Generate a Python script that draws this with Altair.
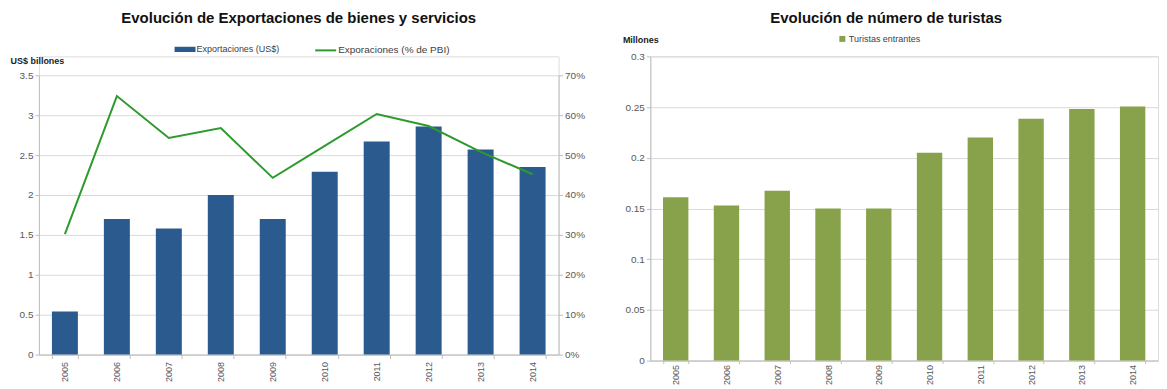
import altair as alt
import pandas as pd

# ---- data ----
years = ["2005", "2006", "2007", "2008", "2009", "2010", "2011", "2012", "2013", "2014"]
exports_usd = [0.54, 1.70, 1.58, 2.00, 1.70, 2.29, 2.67, 2.86, 2.57, 2.35]
exports_pct = [0.302, 0.648, 0.543, 0.568, 0.443, 0.523, 0.603, 0.573, 0.508, 0.452]
tourists = [0.161, 0.153, 0.1675, 0.150, 0.150, 0.205, 0.220, 0.2385, 0.248, 0.2505]

bar_label = "Exportaciones (US$)"
line_label = "Exporaciones (% de PBI)"
tour_label = "Turistas entrantes"
left_title = "Evolución de Exportaciones de bienes y servicios"
right_title = "Evolución de número de turistas"
left_ylabel = "US$ billones"
right_ylabel = "Millones"
left_ticks = [0, 0.5, 1, 1.5, 2, 2.5, 3, 3.5]
pct_ticks = [0, 0.1, 0.2, 0.3, 0.4, 0.5, 0.6, 0.7]
right_ticks = [0, 0.05, 0.1, 0.15, 0.2, 0.25, 0.3]

BLUE = "#2b5b8e"
GREEN_LINE = "#2e9a2e"
GREEN_BAR = "#87a24b"
GRID = "#d9d9d9"
AXIS = "#bfbfbf"
LABEL = "#595959"
FONT = "Liberation Sans"

LEFT_H = 299      # view height; the value range starts 19px below the top
LEFT_TOP = 19

df_left = pd.DataFrame({
    "year": years,
    "exports": exports_usd,
    "pct": exports_pct,
    "sb": [bar_label] * len(years),
    "sl": [line_label] * len(years),
})
df_right = pd.DataFrame({
    "year": years,
    "tourists": tourists,
    "st": [tour_label] * len(years),
})


def x_axis(tick, pad):
    return alt.Axis(
        title=None, labelAngle=-90, labelFontSize=9, labelColor=LABEL, labelPadding=pad,
        tickBand="extent", tickSize=tick, tickColor=AXIS, domainColor=AXIS, grid=False,
    )


x_scale = alt.Scale(paddingInner=0.5, paddingOuter=0.25)

left_base = alt.Chart(df_left).encode(
    x=alt.X("year:N", axis=x_axis(4, 3), scale=x_scale, sort=years)
)

bars = left_base.mark_bar().encode(
    y=alt.Y(
        "exports:Q",
        scale=alt.Scale(domain=[0, 3.5], nice=False, range=[LEFT_H, LEFT_TOP]),
        axis=alt.Axis(
            values=left_ticks, format="~g", labelFontSize=10, labelColor=LABEL,
            gridColor=GRID, domainColor=AXIS, tickColor=AXIS, tickSize=4,
            minExtent=30, maxExtent=30,
            title=left_ylabel, titleAngle=0, titleAlign="left", titleBaseline="alphabetic",
            titleX=-29, titleY=7, titleFontSize=9, titleFontWeight="bold", titleColor="#222222",
        ),
    ),
    color=alt.Color(
        "sb:N",
        scale=alt.Scale(domain=[bar_label], range=[BLUE]),
        legend=alt.Legend(
            orient="none", legendX=136, legendY=-17.5, title=None,
            symbolType="M-1,-0.25H1V0.25H-1Z", symbolSize=441, symbolStrokeWidth=0,
            labelFontSize=9, labelColor="#404040", labelOffset=1,
        ),
    ),
)

line = left_base.mark_line(strokeWidth=2).encode(
    y=alt.Y(
        "pct:Q",
        scale=alt.Scale(domain=[0, 0.7], nice=False, range=[LEFT_H, LEFT_TOP]),
        axis=alt.Axis(
            orient="right", values=pct_ticks, format=".0%", labelFontSize=10,
            labelColor=LABEL, grid=False, domainColor=AXIS, tickColor=AXIS, tickSize=4,
            minExtent=28, maxExtent=28, title=None,
        ),
    ),
    stroke=alt.Stroke(
        "sl:N",
        scale=alt.Scale(domain=[line_label], range=[GREEN_LINE]),
        legend=alt.Legend(
            orient="none", legendX=276, legendY=-17.5, title=None,
            symbolType="stroke", symbolSize=441, symbolStrokeWidth=2,
            labelFontSize=10, labelColor="#404040", labelOffset=1,
        ),
    ),
)

left = alt.layer(bars, line).resolve_scale(y="independent").properties(
    width=521, height=LEFT_H,
    title=alt.TitleParams(left_title, fontSize=15, fontWeight="bold", color="#111111",
                          anchor="middle", offset=13, font=FONT),
)

right = alt.Chart(df_right).mark_bar().encode(
    x=alt.X("year:N", axis=x_axis(3, 1), scale=x_scale, sort=years),
    y=alt.Y(
        "tourists:Q",
        scale=alt.Scale(domain=[0, 0.3], nice=False),
        axis=alt.Axis(
            values=right_ticks, format="~g", labelFontSize=10, labelColor=LABEL,
            gridColor=GRID, domainColor=AXIS, tickColor=AXIS, tickSize=4,
            minExtent=24, maxExtent=24,
            title=right_ylabel, titleAngle=0, titleAlign="left", titleBaseline="alphabetic",
            titleX=-28, titleY=-14, titleFontSize=9, titleFontWeight="bold", titleColor="#222222",
        ),
    ),
    color=alt.Color(
        "st:N",
        scale=alt.Scale(domain=[tour_label], range=[GREEN_BAR]),
        legend=alt.Legend(
            orient="none", legendX=188, legendY=-22, title=None,
            symbolType="square", symbolSize=36, symbolStrokeWidth=0,
            labelFontSize=9, labelColor="#404040", labelOffset=2,
        ),
    ),
).properties(
    width=509, height=305,
    title=alt.TitleParams(right_title, fontSize=15, fontWeight="bold", color="#111111",
                          anchor="middle", offset=8.5, dx=-18, font=FONT),
)

chart = alt.hconcat(left, right, spacing=34).resolve_scale(
    color="independent", stroke="independent"
).resolve_legend(color="independent").properties(
    padding={"left": 0, "top": 2, "right": 0, "bottom": 0}
).configure_view(stroke=None).configure(
    font=FONT
)

chart.save("out.html", embed_options={"renderer": "svg", "actions": False})
